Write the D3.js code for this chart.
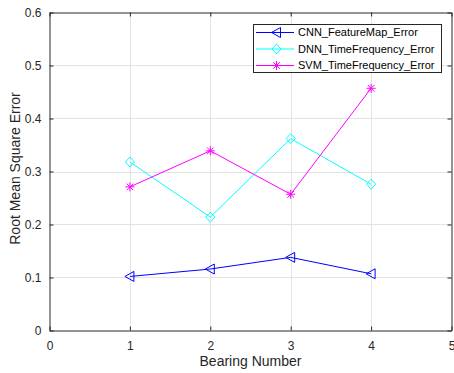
<!DOCTYPE html>
<html><head><meta charset="utf-8">
<script src="https://cdn.jsdelivr.net/npm/d3@7"></script>
<style>body{margin:0;background:#fff}svg{display:block}text{font-family:"Liberation Sans",Arial,sans-serif}</style>
</head><body>
<svg id="c" width="454" height="373"></svg>
<script>
const bearings = [1, 2, 3, 4];
const cnnValues = [0.102, 0.116, 0.138, 0.107];
const dnnValues = [0.318, 0.214, 0.362, 0.276];
const svmValues = [0.271, 0.339, 0.257, 0.457];
const seriesNames = ["CNN_FeatureMap_Error", "DNN_TimeFrequency_Error", "SVM_TimeFrequency_Error"];
const xTicks = [0, 1, 2, 3, 4, 5];
const yTicks = [0, 0.1, 0.2, 0.3, 0.4, 0.5, 0.6];

const svg = d3.select("#c");
const L = 49.5, R = 451.5, T = 12.5, B = 330.5;
const x = d3.scaleLinear().domain([0, 5]).range([L, R]);
const y = d3.scaleLinear().domain([0, 0.6]).range([B, T]);
const axisCol = "#262626";

// grid
svg.append("g").selectAll("line").data(xTicks.slice(1, -1)).join("line")
  .attr("x1", d => Math.round(x(d)) + 0.5).attr("x2", d => Math.round(x(d)) + 0.5)
  .attr("y1", T).attr("y2", B).attr("stroke", "#e3e3e3").attr("stroke-width", 1);
svg.append("g").selectAll("line").data(yTicks.slice(1, -1)).join("line")
  .attr("y1", d => Math.round(y(d)) + 0.5).attr("y2", d => Math.round(y(d)) + 0.5)
  .attr("x1", L).attr("x2", R).attr("stroke", "#e3e3e3").attr("stroke-width", 1);

// axes
const fmtY = d => d === 0 ? "0" : d3.format(".1f")(d);
const xAxis = svg.append("g").attr("transform", `translate(0,${B})`)
  .call(d3.axisBottom(x).tickValues(xTicks).tickSizeInner(-4).tickSizeOuter(0).tickPadding(11).tickFormat(d3.format("d")));
const yAxis = svg.append("g").attr("transform", `translate(${L},0)`)
  .call(d3.axisLeft(y).tickValues(yTicks).tickSizeInner(-4).tickSizeOuter(0).tickPadding(8).tickFormat(fmtY));
const xTop = svg.append("g").attr("transform", `translate(0,${T})`)
  .call(d3.axisTop(x).tickValues(xTicks).tickSizeInner(-4).tickSizeOuter(0).tickFormat(""));
const yRight = svg.append("g").attr("transform", `translate(${R},0)`)
  .call(d3.axisRight(y).tickValues(yTicks).tickSizeInner(-4).tickSizeOuter(0).tickFormat(""));
[xAxis, yAxis, xTop, yRight].forEach(g => {
  g.select(".domain").attr("stroke", axisCol);
  g.selectAll(".tick line").attr("stroke", axisCol);
  g.selectAll("text").attr("fill", axisCol).style("font-size", "12px").style("font-family", '"Liberation Sans",Arial,sans-serif');
});

// labels
svg.append("text").attr("x", (L + R) / 2).attr("y", 366).attr("text-anchor", "middle")
  .attr("fill", axisCol).style("font-size", "14px").text("Bearing Number");
svg.append("text").attr("transform", `translate(19.5,${(T + B) / 2 - 3}) rotate(-90)`).attr("text-anchor", "middle")
  .attr("fill", axisCol).style("font-size", "14px").text("Root Mean Square Error");

// markers
function triLeft(g, cx, cy, col) {
  g.append("path").attr("d", `M${cx - 5},${cy} L${cx + 4},${cy - 5} L${cx + 4},${cy + 5} Z`)
    .attr("fill", "none").attr("stroke", col).attr("stroke-width", 1);
}
function diamond(g, cx, cy, col) {
  g.append("path").attr("d", `M${cx},${cy - 5} L${cx + 4.5},${cy} L${cx},${cy + 5} L${cx - 4.5},${cy} Z`)
    .attr("fill", "none").attr("stroke", col).attr("stroke-width", 1);
}
function star(g, cx, cy, col) {
  const s = 4.5, d = 3.3;
  g.append("path").attr("d", `M${cx - s},${cy} L${cx + s},${cy} M${cx},${cy - s} L${cx},${cy + s} M${cx - d},${cy - d} L${cx + d},${cy + d} M${cx - d},${cy + d} L${cx + d},${cy - d}`)
    .attr("fill", "none").attr("stroke", col).attr("stroke-width", 1);
}

const series = [
  { vals: cnnValues, col: "#0000ff", mk: triLeft },
  { vals: dnnValues, col: "#00ffff", mk: diamond },
  { vals: svmValues, col: "#ff00ff", mk: star }
];
const line = d3.line().x(d => x(d[0])).y(d => y(d[1]));
series.forEach(s => {
  const pts = bearings.map((b, i) => [b, s.vals[i]]);
  svg.append("path").datum(pts).attr("d", line).attr("fill", "none").attr("stroke", s.col).attr("stroke-width", 1);
  const g = svg.append("g");
  pts.forEach(p => s.mk(g, x(p[0]), y(p[1]), s.col));
});

// legend
const lg = svg.append("g");
lg.append("rect").attr("x", 253.5).attr("y", 24.5).attr("width", 188).attr("height", 48)
  .attr("fill", "#fff").attr("stroke", axisCol).attr("stroke-width", 1);
const rowY = [32.5, 49, 65.5];
series.forEach((s, i) => {
  lg.append("line").attr("x1", 256).attr("x2", 294).attr("y1", rowY[i]).attr("y2", rowY[i])
    .attr("stroke", s.col).attr("stroke-width", 1);
  s.mk(lg, 276.5, rowY[i], s.col);
  lg.append("text").attr("x", 298).attr("y", rowY[i]).attr("dy", "0.35em")
    .attr("fill", "#000").style("font-size", "11px").text(seriesNames[i]);
});
</script>
</body></html>
